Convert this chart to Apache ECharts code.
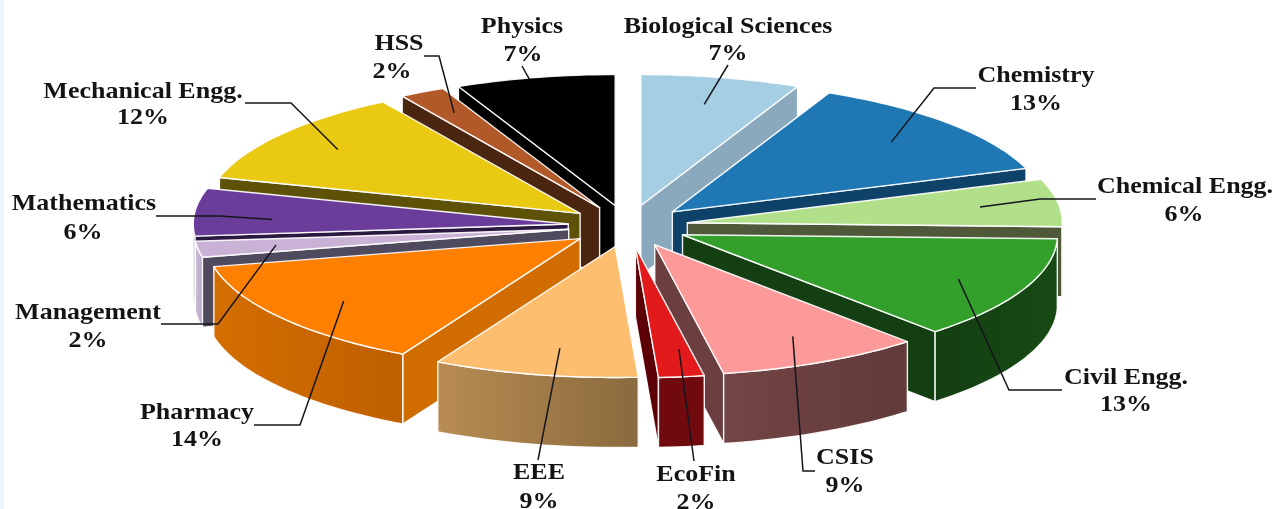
<!DOCTYPE html>
<html>
<head>
<meta charset="utf-8">
<style>html,body{margin:0;padding:0;background:#fff}#chart{width:1276px;height:509px}</style>
<script src="https://cdn.jsdelivr.net/npm/echarts@6/dist/echarts.min.js"></script>
</head>
<body>
<div id="chart"></div>
<script>
// Department shares, clockwise from twelve o'clock
const departments = ['Biological Sciences', 'Chemistry', 'Chemical Engg.', 'Civil Engg.', 'CSIS', 'EcoFin', 'EEE',
  'Pharmacy', 'Management', 'Mathematics', 'Mechanical Engg.', 'HSS', 'Physics'];
const shares = [7, 13, 6, 13, 9, 2, 9, 14, 2, 6, 12, 2, 7];

// Face colours: top, cut walls, rim wall (gradient start and end)
const topColors = ['#A6CEE3', '#1F78B4', '#B2DF8A', '#33A02C', '#FB9A99', '#E31A1C', '#FDBF6F',
  '#FF7F00', '#CAB2D6', '#6A3D9A', '#E9C911', '#B15928', '#000000'];
const cutColors = ['#8BA9BC', '#0F4268', '#50583A', '#143F12', '#6B3F3F', '#5C0206', '#8A6A3E',
  '#D06C00', '#4F4A5E', '#2A1840', '#5E5209', '#4A2510', '#000000'];
const rimColors = [['#8BA9BC', '#8BA9BC'], ['#0F4268', '#0F4268'], ['#50583A', '#50583A'], ['#143F12', '#174A14'],
  ['#744545', '#613A3A'], ['#700A0E', '#700A0E'], ['#B88C52', '#8A6A3E'], ['#D46E00', '#BE5F00'],
  ['#D0C0DC', '#B5A4C6'], ['#2A1840', '#2A1840'], ['#5E5209', '#5E5209'], ['#4A2510', '#4A2510'], ['#000000', '#000000']];

// Label centres: name x, name y, percent x, percent y
const labelSpots = [[728, 27, 728, 54], [1036, 76, 1036, 104], [1185, 187, 1184, 215], [1126, 378, 1126, 405],
  [845, 458, 845, 486], [696, 475, 696, 503], [539, 473, 539, 502], [197, 413, 197, 440], [88, 313, 88, 341],
  [84, 204, 83, 233], [143, 92, 143, 118], [399, 44, 392, 72], [522, 27, 523, 55]];
// Leader routes from the label side, ending before the slice anchor
const leaderRoutes = [[[728, 65]], [[976, 88], [934, 88]], [[1096, 199], [1040, 199]], [[1062, 390], [1009, 390]],
  [[815, 471], [803, 471]], [[694, 461]], [[538, 460]], [[254, 425], [300, 425]], [[161, 324], [218, 324]],
  [[156, 216], [220, 216]], [[245, 103], [291, 103]], [[424, 56], [439, 56]], [[522, 66]]];
// How far along the slice each leader reaches, and its turn off the middle radius in degrees
const leaderReach = [0.79, 0.79, 0.79, 0.81, 0.79, 0.79, 0.79, 0.79, 0.79, 0.79, 0.81, 0.82, 0.99];
const leaderTurn = [0, 0, 0, 0, -1.3, -1.4, -1.6, 0, 0, -2.8, 0, 0, -1];

const CX = 628, CY = 226, RX = 375, RY = 131, EXPLODE = 0.16, DEPTH = 70;
const total = shares.reduce((a, b) => a + b, 0);
const rad = d => d * Math.PI / 180;

const spans = [];
shares.reduce((start, v) => {
  const end = start + v / total * 360;
  spans.push([start, end]);
  return end;
}, 0);

// Painter's order: slices further back are drawn first
const ranks = spans.map(s => Math.cos(rad((s[0] + s[1]) / 2)));
const order = ranks.map((c, i) => [c, i]).sort((a, b) => b[0] - a[0]).map(p => p[1]);

function arcPoints(ox, oy, from, to) {
  const pts = [];
  const steps = Math.max(2, Math.ceil((to - from) / 1.5));
  for (let k = 0; k <= steps; k++) {
    const t = rad(from + (to - from) * k / steps);
    pts.push([ox + RX * Math.sin(t), oy - RY * Math.cos(t)]);
  }
  return pts;
}

function drop(pts) {
  return pts.map(p => [p[0], p[1] + DEPTH]).reverse();
}

function renderSlice(params) {
  const i = params.dataIndex;
  const [t1, t2] = spans[i];
  const mid = rad((t1 + t2) / 2);
  const ox = CX + EXPLODE * RX * Math.sin(mid);
  const oy = CY - EXPLODE * RY * Math.cos(mid);
  const base = order.indexOf(i) * 10 + 1;
  const edge = { stroke: 'rgba(255,255,255,0.92)', lineWidth: 1.4, lineJoin: 'round' };
  const kids = [];
  const poly = (points, fill, z2) => ({
    type: 'polygon', z2, shape: { points }, style: Object.assign({ fill }, edge)
  });

  const arc = arcPoints(ox, oy, t1, t2);
  // Cut walls face the viewer only on one side of the vertical axis
  const wallAt = t => {
    const outer = arcPoints(ox, oy, t, t)[0];
    const run = [[ox, oy], outer];
    return run.concat(drop(run));
  };
  if (Math.sin(rad(t2)) > 0) kids.push(poly(wallAt(t2), cutColors[i], base));
  if (Math.sin(rad(t1)) < 0) kids.push(poly(wallAt(t1), cutColors[i], base));

  // Rim wall covers only the front half of the ellipse
  const from = Math.max(t1, 90), to = Math.min(t2, 270);
  if (to > from) {
    const rim = arcPoints(ox, oy, from, to);
    kids.push(poly(rim.concat(drop(rim)), {
      type: 'linear', x: 0, y: 0, x2: 1, y2: 0,
      colorStops: [{ offset: 0, color: rimColors[i][0] }, { offset: 1, color: rimColors[i][1] }]
    }, base + 1));
  }

  kids.push(poly([[ox, oy]].concat(arc), topColors[i], base + 2));

  // Leader from the label into the slice
  const reach = leaderReach[i];
  const aim = mid + rad(leaderTurn[i]);
  const anchor = [ox + reach * RX * Math.sin(aim), oy - reach * RY * Math.cos(aim)];
  kids.push({
    type: 'polyline', z2: 500, shape: { points: leaderRoutes[i].concat([anchor]) },
    style: { stroke: '#14161c', lineWidth: 1.5, fill: null }
  });

  // Name and percentage, widened to the label proportions of the figure
  const [nx, ny, px, py] = labelSpots[i];
  const text = (x, y, content) => ({
    type: 'text', z2: 510, x, y, scaleX: 1.13, scaleY: 1,
    style: {
      text: content, x: 0, y: 0, align: 'center', verticalAlign: 'middle',
      font: 'bold 23px "Liberation Serif"', fill: '#141414'
    }
  });
  kids.push(text(nx, ny, departments[i]));
  kids.push(text(px, py, shares[i] + '%'));

  return { type: 'group', children: kids };
}

const chart = echarts.init(document.getElementById('chart'), null, { renderer: 'canvas' });
chart.setOption({
  animation: false,
  backgroundColor: '#ffffff',
  graphic: [{
    type: 'rect', left: 0, top: 0, silent: true,
    shape: { width: 4, height: 509 }, style: { fill: '#EAF6FB' }
  }],
  series: [{
    type: 'custom',
    coordinateSystem: 'none',
    silent: true,
    renderItem: renderSlice,
    data: shares.map((v, i) => ({ name: departments[i], value: v }))
  }]
});
</script>
</body>
</html>
